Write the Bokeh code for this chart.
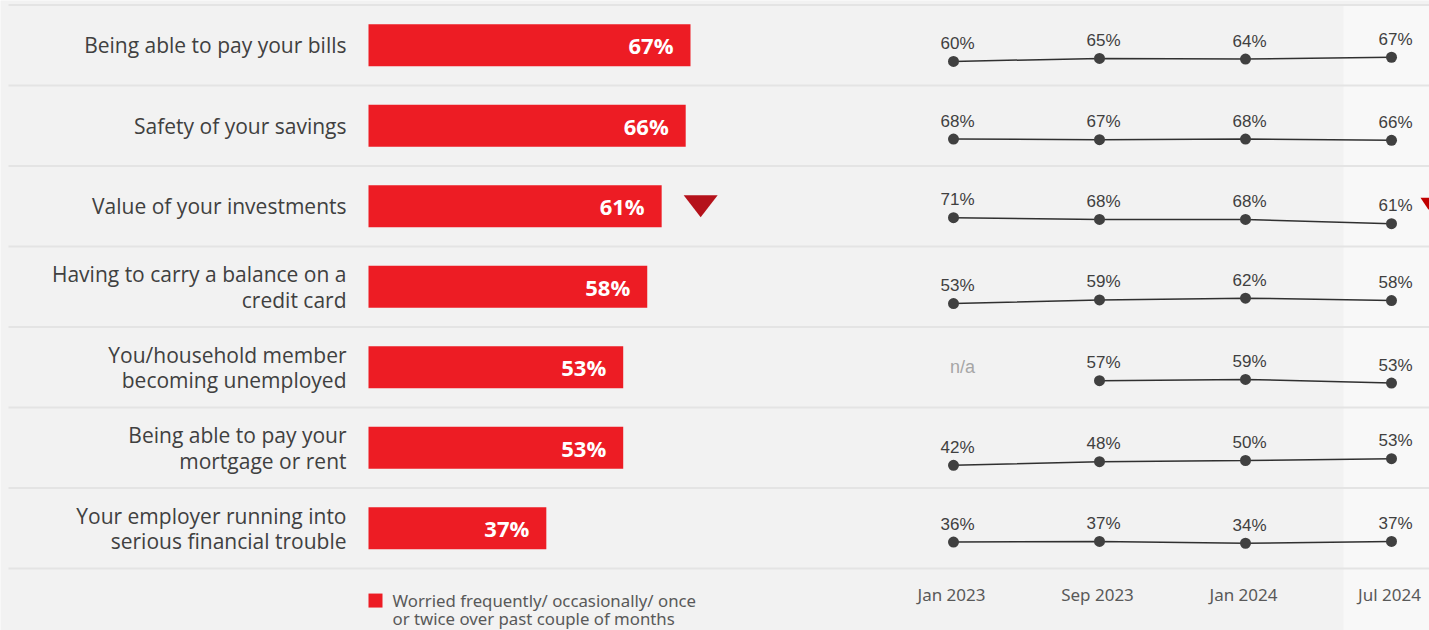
from bokeh.plotting import figure
from bokeh.models import Range1d
from bokeh.core.properties import value
from bokeh.embed import file_html
from bokeh.resources import INLINE

# ---------------- data ----------------
categories = [
    "Being able to pay your bills",
    "Safety of your savings",
    "Value of your investments",
    "Having to carry a balance on a\ncredit card",
    "You/household member\nbecoming unemployed",
    "Being able to pay your\nmortgage or rent",
    "Your employer running into\nserious financial trouble",
]
worried_jul2024 = [67, 66, 61, 58, 53, 53, 37]
significant_decline = [False, False, True, False, False, False, False]

waves = ["Jan 2023", "Sep 2023", "Jan 2024", "Jul 2024"]
trend_jan2023 = [60, 68, 71, 53, None, 42, 36]
trend_sep2023 = [65, 67, 68, 59, 57, 48, 37]
trend_jan2024 = [64, 68, 68, 62, 59, 50, 34]
trend_jul2024 = [67, 66, 61, 58, 53, 53, 37]

legend_label = "Worried frequently/ occasionally/ once\nor twice over past couple of months"

# ---------------- layout constants ----------------
W, H = 1429, 630
PX_PER_PCT = 4.806
BAR_X0 = 368
ROW0, ROW_H = 44.8, 80.5
WAVE_X0, WAVE_DX = 953, 146
SPARK_PX_PER_PCT = 0.6

RED = "#ED1C24"
DARK_RED = "#B5121B"
TEXT = "#404040"
GREY_TEXT = "#595959"
BG = "#F2F2F2"

n = len(categories)
rows = list(range(n))

p = figure(width=W, height=H, output_backend="svg", toolbar_location=None,
           x_range=Range1d(-BAR_X0 / PX_PER_PCT, (W - BAR_X0) / PX_PER_PCT),
           y_range=Range1d((H - ROW0) / ROW_H, -ROW0 / ROW_H),
           min_border=0, outline_line_color=None,
           background_fill_color=BG, border_fill_color=BG)
p.extra_x_ranges = {"t": Range1d(-WAVE_X0 / WAVE_DX, (W - WAVE_X0) / WAVE_DX)}
p.xaxis.visible = False
p.yaxis.visible = False
p.xgrid.visible = False
p.ygrid.visible = False

ybot = (H - ROW0) / ROW_H

# lighter latest-wave column
p.quad(left=[2 + 98 / WAVE_DX], right=[(W - WAVE_X0) / WAVE_DX], top=[-0.5], bottom=[ybot],
       x_range_name="t", fill_color="#F8F8F8", line_color=None)

# row separators
sep_y = [r - 0.5 for r in range(n + 1)]
p.segment(x0=[(8 - BAR_X0) / PX_PER_PCT] * len(sep_y), x1=[(W - BAR_X0) / PX_PER_PCT] * len(sep_y),
          y0=sep_y, y1=sep_y, line_color="#E4E4E4", line_width=2)

# bars
p.hbar(y=rows, left=0, right=worried_jul2024, height=42 / ROW_H, fill_color=RED, line_color=None)
p.text(x=worried_jul2024, y=rows, text=[f"{v}%" for v in worried_jul2024],
       x_offset=-17, text_align="right", text_baseline="middle",
       text_color="white", text_font=value("Open Sans"), text_font_style="bold",
       text_font_size="22px")

# category labels
p.text(x=[0] * n, y=rows, text=categories, x_offset=-22, text_align="right",
       text_baseline="middle", text_color=TEXT, text_font=value("Open Sans"),
       text_font_size="21px", text_line_height=0.91)

# decline triangles next to bars
txs, tys = [], []
for r, v, d in zip(rows, worried_jul2024, significant_decline):
    if d:
        cx = v + 39 / PX_PER_PCT
        hw = 17 / PX_PER_PCT
        hh = 11 / ROW_H
        txs.append([cx - hw, cx + hw, cx])
        tys.append([r - hh, r - hh, r + hh])
p.patches(xs=txs, ys=tys, fill_color=DARK_RED, line_color=None)

# sparklines
series = [trend_jan2023, trend_sep2023, trend_jan2024, trend_jul2024]
lx, ly = [], []
px_, py_, lab_x, lab_y, lab_t = [], [], [], [], []
na_x, na_y = [], []
for r in rows:
    vals = [s[r] for s in series]
    present = [v for v in vals if v is not None]
    mean = sum(present) / len(present)
    xs_r, ys_r = [], []
    for k, v in enumerate(vals):
        if v is None:
            na_x.append(k + 9 / WAVE_DX)
            na_y.append(r)
            continue
        y = r + 13.75 / ROW_H - (v - mean) * SPARK_PX_PER_PCT / ROW_H
        xs_r.append(k)
        ys_r.append(y)
        lab_x.append(k + 4 / WAVE_DX)
        lab_y.append(y - 18 / ROW_H)
        lab_t.append(f"{v}%")
    lx.append(xs_r)
    ly.append(ys_r)
    px_ += xs_r
    py_ += ys_r

p.multi_line(xs=lx, ys=ly, x_range_name="t", line_color="#303030", line_width=1.5)
p.scatter(x=px_, y=py_, x_range_name="t", size=11, fill_color="#404040", line_color=None)
p.text(x=lab_x, y=lab_y, text=lab_t, x_range_name="t", text_align="center",
       text_baseline="middle", text_color=TEXT, text_font=value("Liberation Sans"),
       text_font_size="17px")
p.text(x=na_x, y=na_y, text=["n/a"] * len(na_x), x_range_name="t", text_align="center",
       text_baseline="middle", text_color="#A6A6A6", text_font=value("Liberation Sans"),
       text_font_size="18px")

# small decline triangle in trend area
sx, sy = [], []
for r, d in zip(rows, significant_decline):
    if d:
        cx = 3 + 37 / WAVE_DX
        hw = 8 / WAVE_DX
        hh = 6 / ROW_H
        cy = r - 2.5 / ROW_H
        sx.append([cx - hw, cx + hw, cx])
        sy.append([cy - hh, cy - hh, cy + hh])
p.patches(xs=sx, ys=sy, x_range_name="t", fill_color="#C00000", line_color=None)

# wave labels
p.text(x=[k - 2 / WAVE_DX for k in range(len(waves))], y=[n - 0.5 + 26 / ROW_H] * len(waves),
       text=waves, x_range_name="t", text_align="center", text_baseline="middle",
       text_color=GREY_TEXT, text_font=value("Noto Sans"), text_font_size="17px")

# legend
p.scatter(x=[7 / PX_PER_PCT], y=[n - 0.5 + 32 / ROW_H], marker="square", size=14,
          fill_color=RED, line_color=None)
p.text(x=[24 / PX_PER_PCT], y=[n - 0.5 + 41 / ROW_H], text=[legend_label],
       text_align="left", text_baseline="middle", text_color=GREY_TEXT,
       text_font=value("Noto Sans"), text_font_size="16.8px", text_line_height=0.8)

open("out.html", "w").write(file_html(p, INLINE))
